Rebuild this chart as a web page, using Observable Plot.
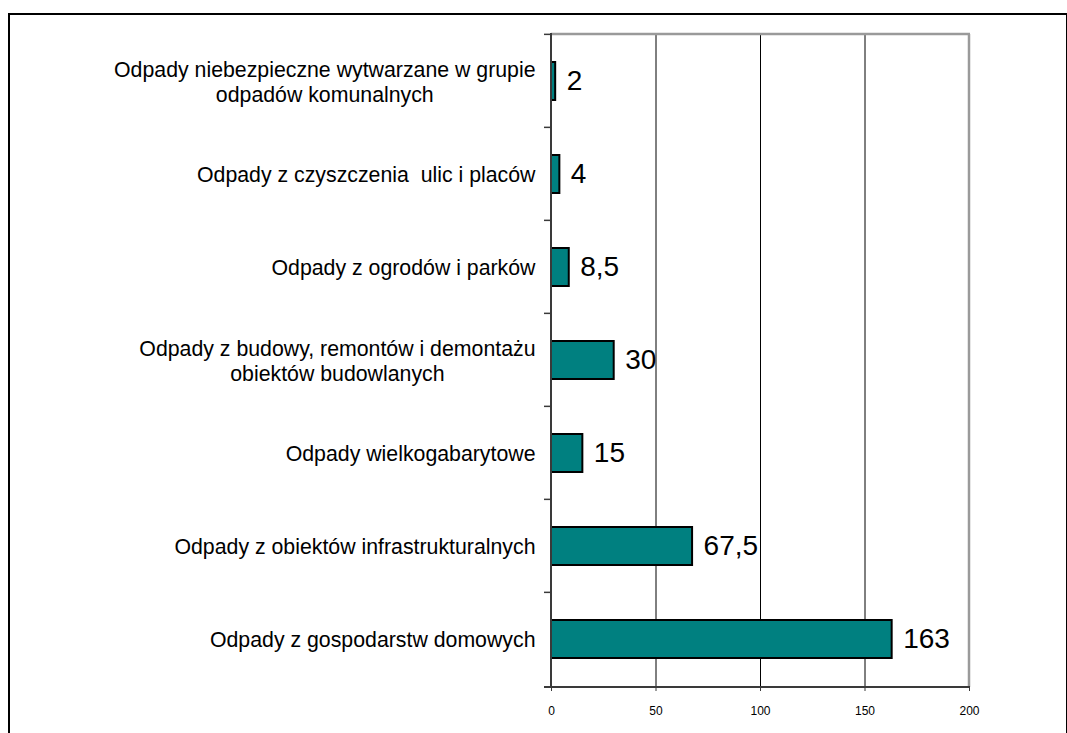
<!DOCTYPE html>
<html><head><meta charset="utf-8">
<script src="https://cdn.jsdelivr.net/npm/d3@7"></script>
<script src="https://cdn.jsdelivr.net/npm/@observablehq/plot@0.6"></script>
<style>
body{margin:0;background:#fff;font-family:"Liberation Sans",Arial,sans-serif;overflow:hidden;}
#frame{position:absolute;left:8px;top:13px;width:1056px;height:760px;border:2px solid #000;border-bottom:none;}
#chart{position:absolute;left:0;top:0;}
</style></head><body>
<div id="frame"></div><div id="chart"></div>
<script>
const categories = [
  "Odpady niebezpieczne wytwarzane w grupie\nodpadów komunalnych",
  "Odpady z czyszczenia  ulic i placów",
  "Odpady z ogrodów i parków",
  "Odpady z budowy, remontów i demontażu\nobiektów budowlanych",
  "Odpady wielkogabarytowe",
  "Odpady z obiektów infrastrukturalnych",
  "Odpady z gospodarstw domowych"
];
const values = [2, 4, 8.5, 30, 15, 67.5, 163];
const valueLabels = ["2", "4", "8,5", "30", "15", "67,5", "163"];
const xTicks = [0, 50, 100, 150, 200];
const gridValues = [50, 100, 150];
const xMax = 200;

const data = categories.map((c, i) => ({category: c, value: values[i], label: valueLabels[i]}));

function frameLines(index, scales, vals, dimensions) {
  const {width, height, marginLeft, marginTop, marginRight, marginBottom} = dimensions;
  const y = scales.y;
  const x = scales.x;
  const g = d3.create("svg:g");
  const left = marginLeft, right = width - marginRight, top = marginTop, bottom = height - marginBottom;
  const step = (bottom - top) / categories.length;
  const bw = (y && y.bandwidth) ? y.bandwidth() : 0;
  // top & right gray border
  g.append("line").attr("x1", left).attr("x2", right + 1).attr("y1", top).attr("y2", top)
    .attr("stroke", "#9a9a9a").attr("stroke-width", 2.5);
  g.append("line").attr("x1", right).attr("x2", right).attr("y1", top).attr("y2", bottom)
    .attr("stroke", "#9a9a9a").attr("stroke-width", 2.5);
  // left axis
  g.append("line").attr("x1", left).attr("x2", left).attr("y1", top - 1).attr("y2", bottom)
    .attr("stroke", "#3a3a3a").attr("stroke-width", 2);
  // bottom axis extended left
  g.append("line").attr("x1", left - 7).attr("x2", right + 1).attr("y1", bottom).attr("y2", bottom)
    .attr("stroke", "#3a3a3a").attr("stroke-width", 2);
  // boundary ticks on y axis
  for (const c of categories) {
    const yy = y ? (y(c) + bw / 2 - step / 2) : top;
    g.append("line").attr("x1", left - 7).attr("x2", left).attr("y1", yy).attr("y2", yy)
      .attr("stroke", "#3a3a3a").attr("stroke-width", 1.5);
  }
  return g.node();
}

const svg = Plot.plot({
  width: 1067,
  height: 733,
  marginLeft: 551,
  marginRight: 98,
  marginTop: 34,
  marginBottom: 46,
  style: {fontFamily: "'Liberation Sans', Arial, sans-serif", background: "transparent", color: "#000"},
  x: {domain: [0, xMax], axis: null},
  y: {domain: categories, paddingInner: 0.59, paddingOuter: 0.295, axis: null},
  marks: [
    Plot.ruleX(gridValues, {stroke: "#000", strokeWidth: 1}),
    Plot.barX(data, {x: "value", y: "category", fill: "#008080", stroke: "#000", strokeWidth: 2}),
    frameLines,
    Plot.axisX({ticks: xTicks, tickSize: 4, tickPadding: 15, fontSize: 12, stroke: "#3a3a3a", fill: "#000", tickFormat: d => String(d), label: null}),
    Plot.text(data, {y: "category", text: "category", frameAnchor: "left", textAnchor: "end", dx: -16, fontSize: 21.3, lineHeight: 1.17, fill: "#000", className: "cat-labels"}),
    Plot.text(data, {x: "value", y: "category", text: "label", textAnchor: "start", dx: 11, fontSize: 28, fill: "#000"})
  ]
});
document.getElementById("chart").append(svg);

svg.querySelectorAll(".cat-labels text").forEach(t => {
  t.style.whiteSpace = "pre";
  const spans = t.querySelectorAll("tspan");
  if (spans.length < 2) return;
  let mw = 0;
  spans.forEach(s => { mw = Math.max(mw, s.getComputedTextLength()); });
  t.setAttribute("text-anchor", "middle");
  spans.forEach(s => s.setAttribute("x", -mw / 2));
});
</script>
</body></html>
